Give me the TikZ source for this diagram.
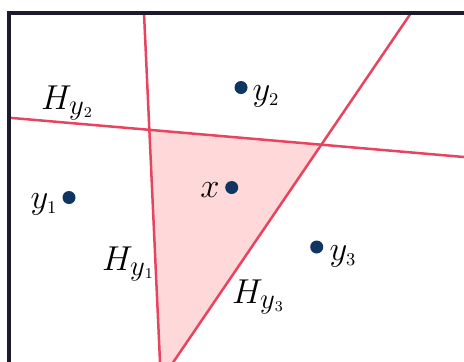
\documentclass[tikz,border=0pt]{standalone}
\usepackage{tikz}
\definecolor{hline}{HTML}{E8435F}
\definecolor{hfill}{HTML}{FFD9DA}
\definecolor{dotc}{HTML}{0F3561}
\definecolor{framec}{HTML}{1C1B2E}
\newcommand\ysub[1]{y_{\mbox{\fontsize{9}{10}\selectfont #1}}}
\newcommand\Hsub[1]{H_{\mbox{\fontsize{13.5}{15}\selectfont$y$\raisebox{-1.5pt}{\fontsize{7.5}{8}\selectfont #1}}}}
\tikzset{
  hyper/.style={draw=hline,line width=1.25pt},
  pt/.style={circle,fill=dotc,inner sep=0pt,minimum size=6.5pt},
  lbl/.style={inner sep=0pt,font=\fontsize{16}{19}\selectfont},
}
\begin{document}
\begin{tikzpicture}[x=0.5pt,y=-0.5pt]
\useasboundingbox (0,0) rectangle (464,361);
\clip (0,0) rectangle (464,361);
% line end points
\coordinate (a1) at (144,13);  \coordinate (a2) at (160.6,375);
\coordinate (b1) at (9,117.7); \coordinate (b2) at (464,157);
\coordinate (c1) at (411,13);  \coordinate (c2) at (164.5,375);
\coordinate (p) at (intersection of a1--a2 and b1--b2);
\coordinate (q) at (intersection of b1--b2 and c1--c2);
\fill[hfill] (p) -- (q) -- (c2) -- (a2) -- cycle;
\draw[hyper] (a1) -- (a2);
\draw[hyper] (b1) -- (b2);
\draw[hyper] (c1) -- (c2);
\draw[framec,line width=2pt] (9,400) -- (9,13) -- (500,13);
% points
\node[pt] (y1) at (69,197.5) {};
\node[pt] (x) at (231.7,187.5) {};
\node[pt] (y2) at (241,87.5) {};
\node[pt] (y3) at (316.7,247) {};
\node[lbl] (ly1) at (44,204) {$\ysub{1}$};
\node[lbl] (lx) at (210,190) {$x$};
\node[lbl] (ly2) at (266,96) {$\ysub{2}$};
\node[lbl] (ly3) at (343,256) {$\ysub{3}$};
\node[lbl] (h2) at (67,103) {$\Hsub{2}$};
\node[lbl] (h1) at (128,264) {$\Hsub{1}$};
\node[lbl] (h3) at (258,297) {$\Hsub{3}$};
\end{tikzpicture}
\end{document}
